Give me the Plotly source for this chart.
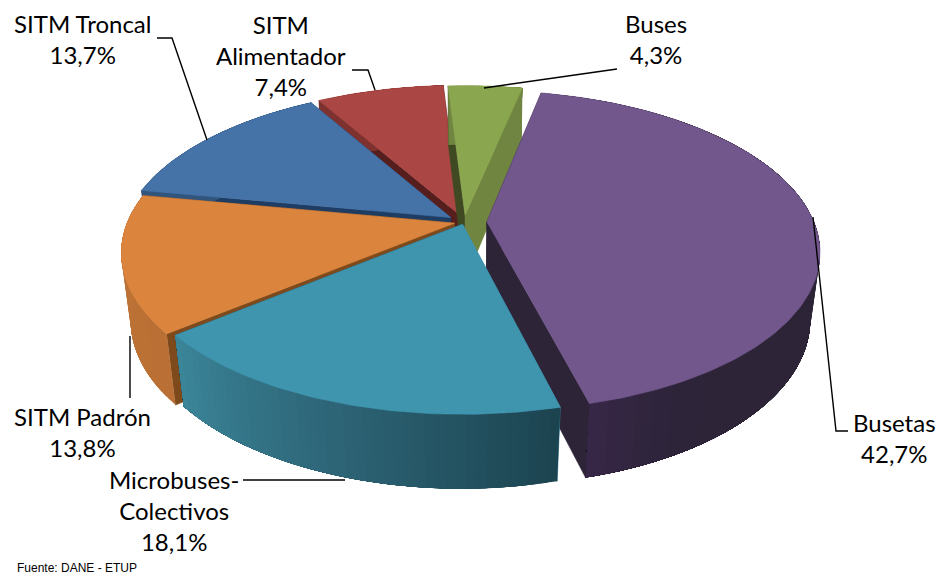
import math
import plotly.graph_objects as go

# ---------- data ----------
categories = ["Buses", "Busetas", "Microbuses-Colectivos", "SITM Padrón", "SITM Troncal", "SITM Alimentador"]
shares = [4.3, 42.7, 18.1, 13.8, 13.7, 7.4]
source_note = "Fuente: DANE - ETUP"

# ---------- styling ----------
top_colors = ["#8AA64F", "#72578C", "#3F94AE", "#DB843D", "#4572A7", "#AA4643"]
wall_stops = [
    [(112, 133, 65), (112, 133, 65)],
    [(45, 36, 56)] * 13 + [(47, 37, 60), (56, 40, 72)],
    [(28, 68, 80), (45, 100, 118), (60, 134, 154)],
    [(186, 112, 52), (192, 118, 56)],
    [(50, 85, 125), (50, 85, 125)],
    [(125, 50, 48), (125, 50, 48)],
]
face_start = ["#3F4A22", "#2D2438", "#3C87A0", "#7E4A1C", "#1F3D63", "#561F1E"]
face_end = ["#70853F", "#2D2438", "#1F4652", "#7E4A1C", "#1F3D63", "#561F1E"]
explode = [0.045, 0.07, 0.015, 0.03, 0.05, 0.05]
draw_order = [5, 4, 0, 3, 1, 2]
START_DEG = -3.5
CX, CY, RX, RY, DEPTH, PERSP, SHRINK = 464, 222, 327, 155, 68, 0.18, 0.027

label_specs = [
    ("Buses<br>4,3%", 656, 39),
    ("Busetas<br>42,7%", 894, 438),
    ("Microbuses-<br>Colectivos<br>18,1%", 174, 510),
    ("SITM Padrón<br>13,8%", 82, 431.5),
    ("SITM Troncal<br>13,7%", 82, 39),
    ("SITM<br>Alimentador<br>7,4%", 281, 55),
]
leaders = [
    [(484, 88), (617, 69)],
    [(813, 217), (836, 431), (848, 431)],
    [(345, 480), (243, 480)],
    [(130, 336), (130, 398)],
    [(207, 140), (172, 38), (157, 38)],
    [(375, 90), (368, 70), (352, 70)],
]


def project(x, y, z):
    d = 1 / (1 - PERSP * y + SHRINK * z)
    return CX + RX * x * d, CY + RY * y * d + DEPTH * z * d


def disc(deg, off):
    r = math.radians(deg)
    return off[0] + math.sin(r), off[1] - math.cos(r)


def lerp(stops, t):
    t = min(max(t, 0), 1) * (len(stops) - 1)
    i = min(int(t), len(stops) - 2)
    f = t - i
    return "rgb(%d,%d,%d)" % tuple(stops[i][k] + (stops[i + 1][k] - stops[i][k]) * f for k in range(3))


fig = go.Figure()


def poly(points, color, stroke=0.6):
    xs, ys = zip(*points)
    fig.add_trace(go.Scatter(x=list(xs) + [xs[0]], y=list(ys) + [ys[0]], mode="lines", fill="toself",
                             fillcolor=color, line=dict(color=color, width=stroke),
                             hoverinfo="skip", showlegend=False))


total = sum(shares)
edges = [START_DEG]
for v in shares:
    edges.append(edges[-1] + v / total * 360)

for i in draw_order:
    a0, a1 = edges[i], edges[i + 1]
    mid = math.radians((a0 + a1) / 2)
    off = (explode[i] * math.sin(mid), -explode[i] * math.cos(mid))
    p0, p1 = disc(a0, off), disc(a1, off)
    poly([project(*off, 0), project(*p0, 0), project(*p0, 1), project(*off, 1)], face_start[i])
    poly([project(*off, 0), project(*p1, 0), project(*p1, 1), project(*off, 1)], face_end[i])
    n = max(2, int((a1 - a0) / 1.5))
    step = (a1 - a0) / n
    for k in range(n):
        # each strip runs to the far end of the wall; later strips paint over it, so no seams show
        b0 = a0 + step * k
        sweep = [b0 + (a1 - b0) * j / 24 for j in range(25)]
        pts = [project(*disc(b, off), 0) for b in sweep] + [project(*disc(b, off), 1) for b in reversed(sweep)]
        poly(pts, lerp(wall_stops[i], (k + 0.5) / n), stroke=0)
    m = max(4, int(a1 - a0))
    top = [project(*off, 0)] + [project(*disc(a0 + (a1 - a0) * k / m, off), 0) for k in range(m + 1)]
    poly(top, top_colors[i])

for pts in leaders:
    fig.add_trace(go.Scatter(x=[p[0] for p in pts], y=[p[1] for p in pts], mode="lines",
                             line=dict(color="black", width=1.4), hoverinfo="skip", showlegend=False))

annotations = [dict(x=x, y=y, text=t, showarrow=False, xanchor="center", yanchor="middle",
                    font=dict(family="Lato", size=24, color="black")) for t, x, y in label_specs]
annotations.append(dict(x=15, y=568, text=source_note, showarrow=False, xanchor="left", yanchor="middle",
                        font=dict(family="Liberation Sans", size=12, color="black")))

fig.update_layout(
    width=938, height=576, margin=dict(l=0, r=0, t=0, b=0), showlegend=False,
    paper_bgcolor="white", plot_bgcolor="white", annotations=annotations,
    xaxis=dict(range=[0, 938], visible=False, fixedrange=True),
    yaxis=dict(range=[576, 0], visible=False, fixedrange=True),
)
fig.write_html("out.html", config={"displayModeBar": False},
               post_script="document.body.style.margin='0';document.documentElement.style.overflow='hidden';window.dispatchEvent(new Event('resize'));")
